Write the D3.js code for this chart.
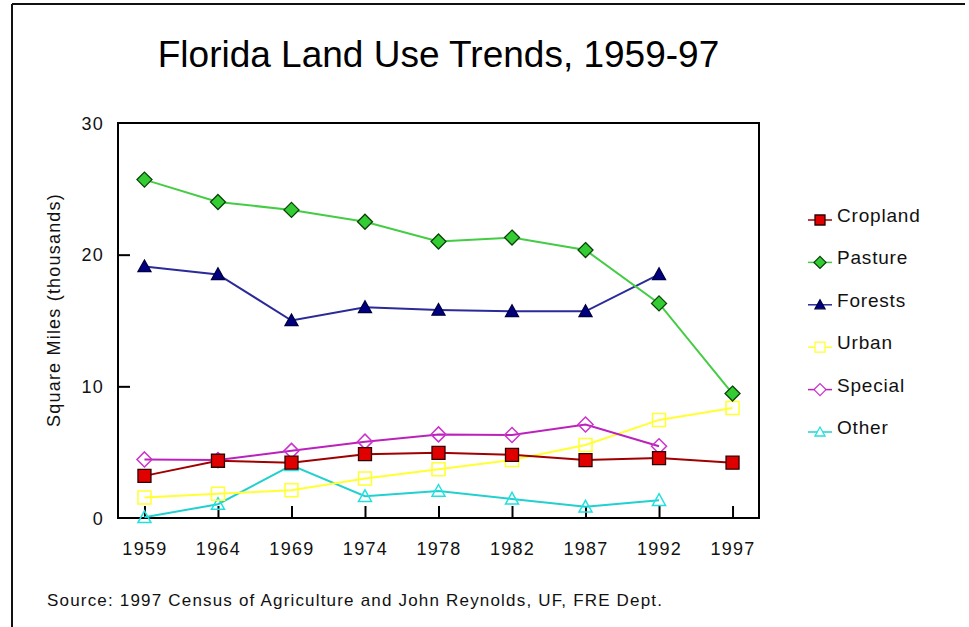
<!DOCTYPE html>
<html>
<head>
<meta charset="utf-8">
<script src="https://cdn.jsdelivr.net/npm/d3@7"></script>
<style>
  body { margin: 0; background: #fff; }
  svg { display: block; font-family: "Liberation Sans", Arial, sans-serif; }
</style>
</head>
<body>
<div id="container"></div>
<script>
// years on the x axis
var years = ["1959", "1964", "1969", "1974", "1978", "1982", "1987", "1992", "1997"];
// series values, thousands of square miles (null = no data)
var cropland = [3.2, 4.35, 4.2, 4.85, 4.95, 4.8, 4.4, 4.55, 4.2];
var pasture  = [25.7, 24.0, 23.4, 22.5, 21.0, 21.3, 20.35, 16.3, 9.45];
var forests  = [19.1, 18.5, 15.0, 16.0, 15.8, 15.7, 15.7, 18.5, null];
var urban    = [1.55, 1.85, 2.1, 3.0, 3.7, 4.4, 5.55, 7.45, 8.35];
var special  = [4.45, 4.4, 5.1, 5.8, 6.35, 6.3, 7.1, 5.45, null];
var other    = [0.05, 1.05, 4.0, 1.65, 2.05, 1.45, 0.85, 1.35, null];
var yTicks = [0, 10, 20, 30];

var seriesNames = ["Cropland", "Pasture", "Forests", "Urban", "Special", "Other"];
var seriesValues = [cropland, pasture, forests, urban, special, other];

// look of each series
var styles = {
    Cropland: { shape: "square",   fill: "#e00000", stroke: "#300000", line: "#a00000" },
    Pasture:  { shape: "diamond",  fill: "#33cc33", stroke: "#0a400a", line: "#44cc44" },
    Forests:  { shape: "triangle", fill: "#000080", stroke: "#000040", line: "#2a2a99" },
    Urban:    { shape: "square",   fill: "none",    stroke: "#ffff33", line: "#ffff33" },
    Special:  { shape: "diamond",  fill: "none",    stroke: "#cc33cc", line: "#bb22bb" },
    Other:    { shape: "triangle", fill: "none",    stroke: "#22e0e0", line: "#22d0d0" }
};

var width = 969;
var height = 627;
var plot = { left: 118, right: 759, top: 123, bottom: 518 };

var svg = d3.select("#container")
    .append("svg")
    .attr("width", width)
    .attr("height", height);

// outer frame (top and left edges only show in the picture)
svg.append("line").attr("x1", 12).attr("x2", 965).attr("y1", 4).attr("y2", 4)
    .attr("stroke", "#111").attr("stroke-width", 2);
svg.append("line").attr("x1", 12).attr("x2", 12).attr("y1", 4).attr("y2", height)
    .attr("stroke", "#111").attr("stroke-width", 2);

var x = d3.scalePoint()
    .domain(years)
    .range([plot.left, plot.right])
    .padding(0.36);

var y = d3.scaleLinear()
    .domain([0, 30])
    .range([plot.bottom, plot.top]);

// title
svg.append("text")
    .attr("x", (plot.left + plot.right) / 2)
    .attr("y", 67)
    .attr("text-anchor", "middle")
    .attr("font-size", 37)
    .attr("fill", "#000")
    .text("Florida Land Use Trends, 1959-97");

// y axis label
svg.append("text")
    .attr("transform", "translate(60," + 310 + ") rotate(-90)")
    .attr("text-anchor", "middle")
    .attr("font-size", 18)
    .attr("letter-spacing", 1.2)
    .attr("fill", "#111")
    .text("Square Miles (thousands)");

// axes with inward ticks
var xAxis = svg.append("g")
    .attr("transform", "translate(0," + plot.bottom + ")")
    .call(d3.axisBottom(x).tickSizeInner(-12).tickSizeOuter(0).tickPadding(24));
var yAxis = svg.append("g")
    .attr("transform", "translate(" + plot.left + ",0)")
    .call(d3.axisLeft(y).tickValues(yTicks).tickSizeInner(-12).tickSizeOuter(0).tickPadding(14));

[xAxis, yAxis].forEach(function (g) {
    g.select(".domain").remove();
    g.selectAll(".tick line").attr("stroke", "#000").attr("stroke-width", 2);
    g.selectAll(".tick text")
        .attr("font-family", "Liberation Sans, Arial, sans-serif")
        .attr("font-size", 18)
        .attr("letter-spacing", 1.3)
        .attr("fill", "#111");
});
// no tick marks on the frame itself at 0 and 30
yAxis.selectAll(".tick").filter(d => d == 0 || d == 30).select("line").remove();
yAxis.selectAll(".tick text").attr("dy", "0.35em");

// plot frame
svg.append("rect")
    .attr("x", plot.left)
    .attr("y", plot.top)
    .attr("width", plot.right - plot.left)
    .attr("height", plot.bottom - plot.top)
    .attr("fill", "none")
    .attr("stroke", "#000")
    .attr("stroke-width", 2);

function markerPath(shape, s) {
    var h = s / 2;
    if (shape == "square") {
        return "M" + (-h) + "," + (-h) + "H" + h + "V" + h + "H" + (-h) + "Z";
    } else if (shape == "diamond") {
        return "M0," + (-h) + "L" + h + ",0L0," + h + "L" + (-h) + ",0Z";
    }
    return "M0," + (-h) + "L" + h + "," + (h * 0.8) + "L" + (-h) + "," + (h * 0.8) + "Z";
}

var line = d3.line()
    .defined(d => d.v != null)
    .x(d => x(d.year))
    .y(d => y(d.v));

// draw order: open markers under the filled ones
var drawOrder = ["Other", "Urban", "Special", "Forests", "Pasture", "Cropland"];
drawOrder.forEach(function (name) {
    var st = styles[name];
    var vals = seriesValues[seriesNames.indexOf(name)];
    var pts = years.map((yr, i) => ({ year: yr, v: vals[i] }));
    var g = svg.append("g");
    g.append("path")
        .attr("d", line(pts))
        .attr("fill", "none")
        .attr("stroke", st.line)
        .attr("stroke-width", 2);
    var size = st.shape == "diamond" ? 15 : 13;
    g.selectAll("path.mark")
        .data(pts.filter(d => d.v != null))
        .enter()
        .append("path")
        .attr("class", "mark")
        .attr("d", markerPath(st.shape, size))
        .attr("transform", d => "translate(" + x(d.year) + "," + y(d.v) + ")")
        .attr("fill", st.fill)
        .attr("stroke", st.stroke)
        .attr("stroke-width", st.fill == "none" ? 1.5 : 1.3);
});

// legend
var legend = svg.append("g");
seriesNames.forEach(function (name, i) {
    var st = styles[name];
    var by = 222 + i * 42.4;
    var my = by - 2;
    legend.append("line")
        .attr("x1", 808).attr("x2", 832)
        .attr("y1", my).attr("y2", my)
        .attr("stroke", st.line).attr("stroke-width", 1.5);
    legend.append("path")
        .attr("d", markerPath(st.shape, st.shape == "diamond" ? 12 : 10))
        .attr("transform", "translate(820," + my + ")")
        .attr("fill", st.fill == "none" ? "#fff" : st.fill)
        .attr("stroke", st.stroke)
        .attr("stroke-width", 1.3);
    legend.append("text")
        .attr("x", 837)
        .attr("y", by)
        .attr("font-size", 19)
        .attr("letter-spacing", 0.8)
        .attr("fill", "#111")
        .text(name);
});

// source note
svg.append("text")
    .attr("x", 47)
    .attr("y", 606)
    .attr("font-size", 17)
    .attr("textLength", 615)
    .attr("lengthAdjust", "spacing")
    .attr("fill", "#111")
    .text("Source: 1997 Census of Agriculture and John Reynolds, UF, FRE Dept.");
</script>
</body>
</html>
